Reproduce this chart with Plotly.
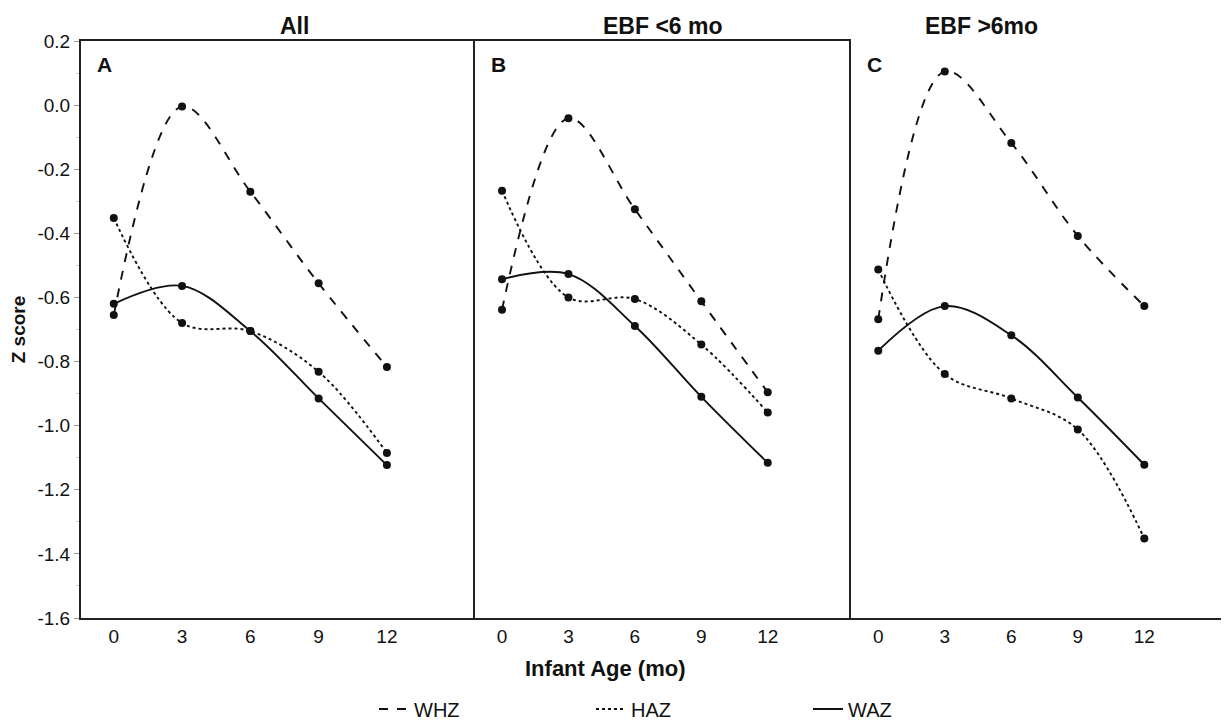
import plotly.graph_objects as go
from plotly.subplots import make_subplots

ages = [0, 3, 6, 9, 12]
panel_titles = ["All", "EBF <6 mo", "EBF >6mo"]
panel_letters = ["A", "B", "C"]

whz_all = [-0.655, -0.004, -0.270, -0.556, -0.817]
haz_all = [-0.352, -0.680, -0.705, -0.832, -1.085]
waz_all = [-0.620, -0.564, -0.705, -0.915, -1.123]

whz_lt6 = [-0.638, -0.041, -0.325, -0.612, -0.896]
haz_lt6 = [-0.267, -0.600, -0.605, -0.747, -0.959]
waz_lt6 = [-0.543, -0.527, -0.689, -0.910, -1.116]

whz_gt6 = [-0.668, 0.105, -0.118, -0.408, -0.627]
haz_gt6 = [-0.513, -0.839, -0.915, -1.012, -1.352]
waz_gt6 = [-0.766, -0.627, -0.718, -0.912, -1.122]

y_ticks = [0.2, 0.0, -0.2, -0.4, -0.6, -0.8, -1.0, -1.2, -1.4, -1.6]
y_ticktext = ["0.2", "0.0", "-0.2", "-0.4", "-0.6", "-0.8", "-1.0", "-1.2", "-1.4", "-1.6"]

panels = [
    {"WHZ": whz_all, "HAZ": haz_all, "WAZ": waz_all},
    {"WHZ": whz_lt6, "HAZ": haz_lt6, "WAZ": waz_lt6},
    {"WHZ": whz_gt6, "HAZ": haz_gt6, "WAZ": waz_gt6},
]
dashes = {"WHZ": "dash", "HAZ": "dot", "WAZ": "solid"}

FONT = "Liberation Sans, Arial, sans-serif"
INK = "#111111"

fig = make_subplots(rows=1, cols=3, shared_yaxes=True, horizontal_spacing=0)

for i, data in enumerate(panels):
    for name in ["WHZ", "HAZ", "WAZ"]:
        fig.add_trace(go.Scatter(x=ages, y=data[name], mode="lines", name=name,
                                 line=dict(color=INK, width=1.9, dash=dashes[name],
                                           shape="spline", smoothing=1.0),
                                 showlegend=(i == 0), legendgroup=name),
                      row=1, col=i+1)
        fig.add_trace(go.Scatter(x=ages, y=data[name], mode="markers",
                                 marker=dict(color=INK, size=8),
                                 showlegend=False, legendgroup=name),
                      row=1, col=i+1)

# the page body adds an 8px margin, so the figure is 8px smaller each way
W = 1148.0
domains = [[0, 394/W], [394/W, 770/W], [770/W, 1.0]]
xranges = [[-1.44, 15.87], [-1.22, 15.76], [-1.23, 15.82]]

for i in range(3):
    fig.update_xaxes(domain=domains[i], range=xranges[i], tickvals=ages,
                     showgrid=False, zeroline=False, showline=True,
                     linecolor="#222", linewidth=2, mirror=(i < 2),
                     ticks="", tickfont=dict(size=19, family=FONT, color=INK),
                     row=1, col=i+1)
    fig.update_yaxes(range=[-1.6, 0.2], showgrid=False, zeroline=False,
                     showline=True, linecolor="#222", linewidth=2,
                     row=1, col=i+1)

fig.update_yaxes(tickvals=y_ticks, ticktext=y_ticktext, ticks="outside",
                 ticklen=5, tickcolor="#999", tickfont=dict(size=19, family=FONT, color=INK),
                 minor=dict(ticks="outside", ticklen=3, tickcolor="#ccc", dtick=0.1, tick0=0),
                 title=dict(text="<b>Z score</b>", font=dict(size=19, family=FONT, color=INK),
                            standoff=8),
                 row=1, col=1)
fig.update_xaxes(mirror=True, row=1, col=1)

annotations = []
centers = [(d[0] + d[1]) / 2 for d in domains]
for i in range(3):
    annotations.append(dict(x=centers[i], y=1.0, xref="paper", yref="paper",
                            yanchor="bottom", yshift=0, showarrow=False,
                            text="<b>%s</b>" % panel_titles[i],
                            font=dict(size=23, family=FONT, color=INK)))
    annotations.append(dict(x=domains[i][0], y=1.0, xref="paper", yref="paper",
                            xanchor="left", yanchor="top", xshift=14, yshift=-10,
                            showarrow=False, text="<b>%s</b>" % panel_letters[i],
                            font=dict(size=21, family=FONT, color=INK)))
annotations.append(dict(x=(605 - 81) / W, y=-50 / 577, xref="paper", yref="paper",
                        yanchor="middle", showarrow=False, text="<b>Infant Age (mo)</b>",
                        font=dict(size=22, family=FONT, color=INK)))

fig.update_layout(
    width=1221, height=715,
    margin=dict(l=73, r=0, t=33, b=105),
    plot_bgcolor="white", paper_bgcolor="white",
    font=dict(family=FONT, color=INK),
    annotations=annotations,
    legend=dict(orientation="h", x=(374 - 81) / W, xanchor="left",
                yref="container", y=1 - 701 / 715, yanchor="middle",
                entrywidth=172, font=dict(size=20, family=FONT, color=INK),
                bgcolor="rgba(0,0,0,0)"),
)

fig.write_html("out.html")
